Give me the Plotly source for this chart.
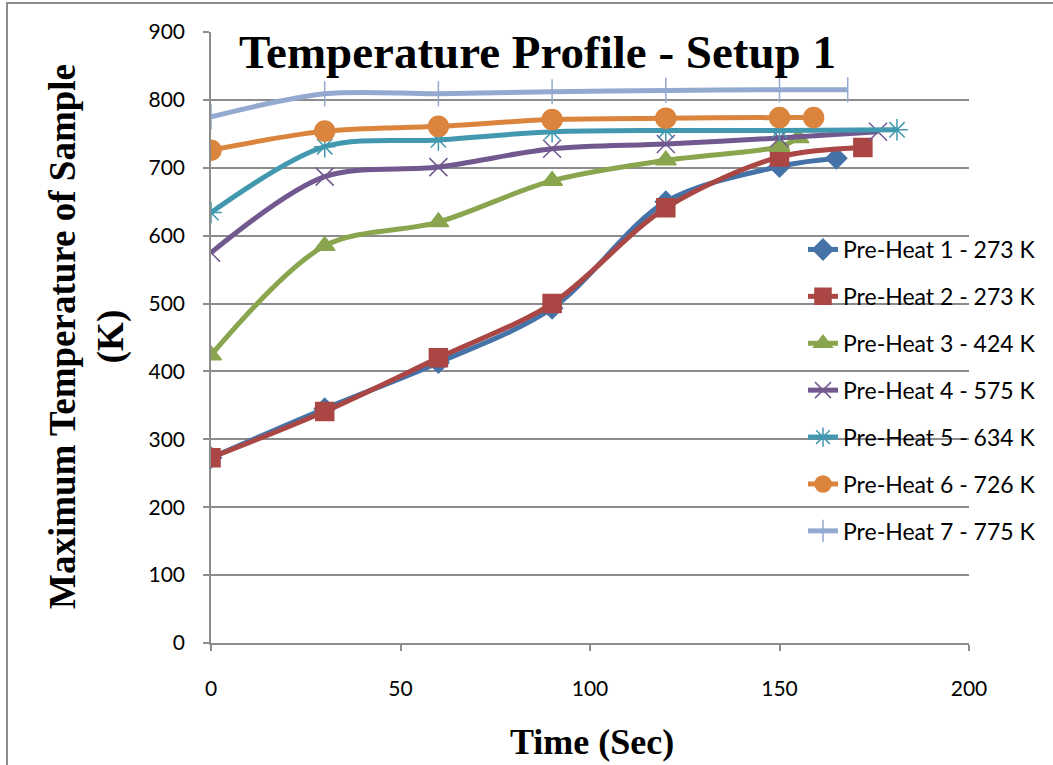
import plotly.graph_objects as go

names = ["Pre-Heat 1 - 273 K", "Pre-Heat 2 - 273 K", "Pre-Heat 3 - 424 K",
         "Pre-Heat 4 - 575 K", "Pre-Heat 5 - 634 K", "Pre-Heat 6 - 726 K",
         "Pre-Heat 7 - 775 K"]

t1 = [0, 30, 60, 90, 120, 150, 165]
y1 = [273, 345, 413, 493, 650, 702, 714]
t2 = [0, 30, 60, 90, 120, 150, 172]
y2 = [273, 341, 420, 500, 641, 716, 730]
t3 = [0, 30, 60, 90, 120, 150, 155]
y3 = [424, 585, 620, 681, 711, 731, 744]
t4 = [0, 30, 60, 90, 120, 150, 176]
y4 = [575, 687, 701, 728, 735, 744, 753]
t5 = [0, 30, 60, 90, 120, 150, 181]
y5 = [634, 731, 741, 753, 755, 755, 756]
t6 = [0, 30, 60, 90, 120, 150, 159]
y6 = [726, 754, 761, 771, 773, 774, 774]
t7 = [0, 30, 60, 90, 120, 150, 168]
y7 = [775, 809, 809, 812, 814, 815, 815]

xs = [t1, t2, t3, t4, t5, t6, t7]
ys = [y1, y2, y3, y4, y5, y6, y7]

colors = ["#4572A7", "#AA4643", "#89A54E", "#71588F", "#4198AF", "#DB843D", "#93A9CF"]
symbols = ["diamond", "square", "triangle-up", "x-thin-open", "asterisk-open", "circle", "line-ns-open"]
sizes = [16, 18, 18, 18, 18, 20, 18]

FIG_W, FIG_H = 1053, 765
L, R, T, B = 211, 84, 32, 122
PW = FIG_W - L - R
PH = FIG_H - T - B

def px(x):
    return (x - L) / PW

def py(y):
    return (FIG_H - B - y) / PH

fig = go.Figure()
for i in range(7):
    fig.add_trace(go.Scatter(
        x=xs[i], y=ys[i], name=names[i], mode="lines+markers",
        legendgroup=f"g{i}",
        line=dict(color=colors[i], width=5, shape="spline", smoothing=0.9),
        marker=dict(symbol=symbols[i], size=sizes[i], color=colors[i],
                    line=dict(width=1.5, color=colors[i])),
    ))

grid = "#8c8c8c"
fig.update_layout(
    width=FIG_W, height=FIG_H,
    margin=dict(l=L, r=R, t=T, b=B),
    paper_bgcolor="white", plot_bgcolor="white",
    font=dict(family="Lato", size=21, color="#000000"),
    showlegend=True,
    legend=dict(x=px(803), y=py(228), xanchor="left", yanchor="top",
                bgcolor="rgba(0,0,0,0)", tracegroupgap=14,
                font=dict(family="Lato", size=23, color="#000000")),
    xaxis=dict(range=[0, 200], tickvals=[0, 50, 100, 150, 200],
               showgrid=False, zeroline=False, showline=True,
               linecolor=grid, linewidth=1.5, ticks="outside", ticklen=6,
               tickcolor=grid, tickwidth=1.5, ticklabelstandoff=20,
               tickfont=dict(family="Lato", size=21)),
    yaxis=dict(range=[0, 900], tickvals=list(range(0, 901, 100)),
               showgrid=True, gridcolor=grid, gridwidth=1.5, zeroline=False,
               showline=True, linecolor=grid, linewidth=1.5, ticks="outside",
               ticklen=6, tickcolor=grid, tickwidth=1.5, ticklabelstandoff=14,
               tickfont=dict(family="Lato", size=21)),
    annotations=[
        dict(text="<b>Temperature Profile - Setup 1</b>", x=px(537), y=py(52),
             xref="paper", yref="paper", showarrow=False, xanchor="center", yanchor="middle",
             font=dict(family="Liberation Serif", size=47, color="#000")),
        dict(text="<b>Time (Sec)</b>", x=px(592), y=py(742),
             xref="paper", yref="paper", showarrow=False, xanchor="center", yanchor="middle",
             font=dict(family="Liberation Serif", size=36, color="#000")),
        dict(text="<b>Maximum Temperature of Sample<br>(K)</b>", x=px(87), y=py(337),
             xref="paper", yref="paper", showarrow=False, xanchor="center", yanchor="middle",
             textangle=-90,
             font=dict(family="Liberation Serif", size=37, color="#000")),
    ],
    shapes=[dict(type="rect", xref="paper", yref="paper",
                 x0=px(7), x1=px(1070), y0=py(3), y1=py(790),
                 line=dict(color="#8c8c8c", width=2), fillcolor="rgba(0,0,0,0)", layer="below")],
)

fig.write_html("out.html")
